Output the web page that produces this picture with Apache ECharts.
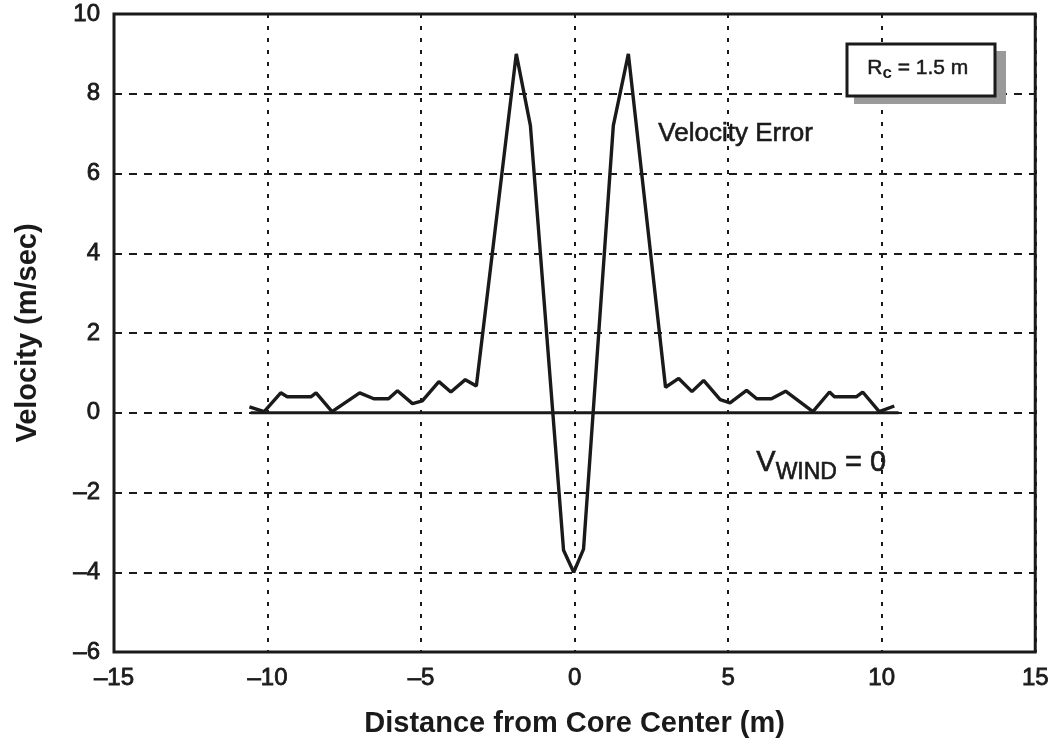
<!DOCTYPE html>
<html>
<head>
<meta charset="utf-8">
<script src="https://cdn.jsdelivr.net/npm/echarts@6/dist/echarts.min.js"></script>
<style>
html,body{margin:0;padding:0;background:#fff;}
#chart{width:1052px;height:743px;}
</style>
</head>
<body>
<div id="chart"></div>
<script>
// Distance from core center (m)
var distance = [-10.59, -10.11, -9.57, -9.36, -8.59, -8.42, -7.90, -7.00, -6.54, -6.06, -5.77, -5.28, -4.96, -4.42, -4.03, -3.56, -3.20, -1.90, -1.44, -0.36, -0.03, 0.29, 1.26, 1.75, 2.96, 3.39, 3.82, 4.20, 4.74, 5.06, 5.60, 5.93, 6.41, 6.87, 7.76, 8.30, 8.46, 9.17, 9.38, 9.92, 10.41];
// Velocity error (m/sec)
var velocityError = [0.15, 0.03, 0.50, 0.40, 0.40, 0.50, 0.03, 0.50, 0.35, 0.35, 0.55, 0.23, 0.30, 0.78, 0.52, 0.83, 0.67, 9.00, 7.20, -3.45, -4.00, -3.42, 7.20, 9.00, 0.64, 0.86, 0.53, 0.81, 0.33, 0.25, 0.56, 0.35, 0.35, 0.54, 0.03, 0.52, 0.40, 0.40, 0.52, 0.03, 0.17];
// V_WIND = 0 reference line
var windX = [-10.55, 10.55];
var windY = [0, 0];
// Axes
var xTicks = [-15, -10, -5, 0, 5, 10, 15];
var yTicks = [-6, -4, -2, 0, 2, 4, 6, 8, 10];

function pairs(xs, ys) { return xs.map(function (x, i) { return [x, ys[i]]; }); }
function fmt(v) { return String(v).replace('-', '\u2013'); }

var FONT = '"Liberation Sans", Arial, Helvetica, sans-serif';
var INK = '#1a1a1a';
var chart = echarts.init(document.getElementById('chart'));
var tickLabel = { formatter: fmt, fontFamily: FONT, fontSize: 24, color: INK, margin: 14, textBorderColor: INK, textBorderWidth: 0.8 };
chart.setOption({
  animation: false,
  backgroundColor: '#fff',
  grid: { left: 114, right: 12, top: 14, bottom: 89, show: true, borderColor: INK, borderWidth: 3, backgroundColor: 'transparent' },
  xAxis: {
    type: 'value', min: xTicks[0], max: xTicks[xTicks.length - 1], interval: 5,
    name: 'Distance from Core Center (m)', nameLocation: 'middle', nameGap: 57,
    nameTextStyle: { fontFamily: FONT, fontSize: 29, fontWeight: 'bold', color: INK },
    axisLine: { show: false }, axisTick: { show: false },
    axisLabel: tickLabel,
    splitLine: { show: true, lineStyle: { color: INK, width: 2, type: [4, 8] } }
  },
  yAxis: {
    type: 'value', min: yTicks[0], max: yTicks[yTicks.length - 1], interval: 2,
    name: 'Velocity (m/sec)', nameLocation: 'middle', nameGap: 72, nameRotate: 90,
    nameTextStyle: { fontFamily: FONT, fontSize: 29, fontWeight: 'bold', color: INK },
    axisLine: { show: false }, axisTick: { show: false },
    axisLabel: tickLabel,
    splitLine: { show: true, lineStyle: { color: INK, width: 2, type: [8, 7] } }
  },
  series: [
    {
      type: 'line', data: pairs(windX, windY), symbol: 'none', silent: true,
      lineStyle: { color: INK, width: 3 }, z: 3
    },
    {
      type: 'line', data: pairs(distance, velocityError), symbol: 'none',
      lineStyle: { color: INK, width: 3.4 }, z: 4
    }
  ],
  graphic: [
    { type: 'text', left: 658, top: 121, style: { text: 'Velocity Error', fontFamily: FONT, fontSize: 26, fill: INK, stroke: INK, lineWidth: 0.6 } },
    { type: 'text', left: 756, top: 448, style: {
        text: '{v|V}{s|WIND}{v| = 0}', fontFamily: FONT, fill: INK,
        rich: { v: { fontSize: 29, fontFamily: FONT, fill: INK, stroke: INK, lineWidth: 0.6, verticalAlign: 'bottom' },
                s: { fontSize: 23, fontFamily: FONT, fill: INK, stroke: INK, lineWidth: 0.6, padding: [0, 0, -7, 0], verticalAlign: 'bottom' } } } },
    { type: 'rect', shape: { x: 854, y: 51, width: 152, height: 53 }, style: { fill: '#9a9a9a' }, z: 10 },
    { type: 'rect', shape: { x: 847, y: 44, width: 148, height: 52 }, style: { fill: '#fff', stroke: INK, lineWidth: 3 }, z: 11 },
    { type: 'text', left: 867, top: 57, z: 12, style: {
        text: '{r|R}{c|c}{r| = 1.5 m}', fontFamily: FONT, fill: INK,
        rich: { r: { fontSize: 21, fontFamily: FONT, fill: INK, stroke: INK, lineWidth: 0.5, verticalAlign: 'bottom' },
                c: { fontSize: 17, fontFamily: FONT, fill: INK, fontWeight: 'bold', padding: [0, 0, -4, 0], verticalAlign: 'bottom' } } } }
  ]
});
</script>
</body>
</html>
